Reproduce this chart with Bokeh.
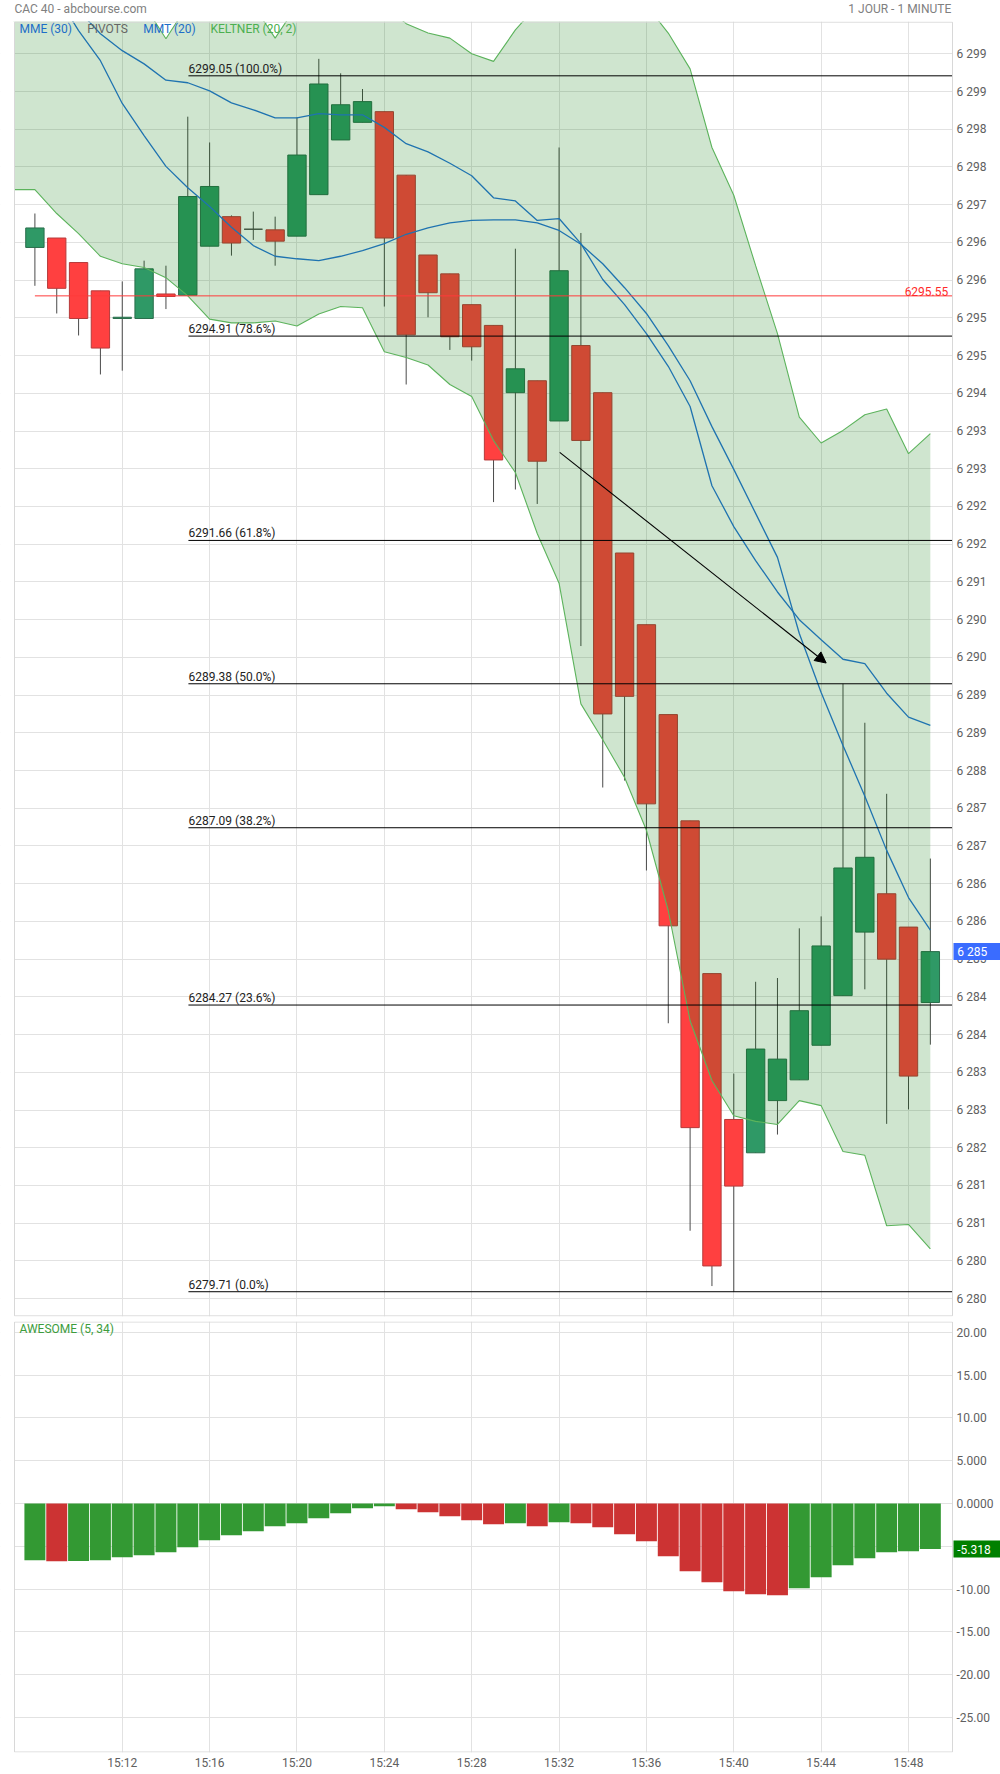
from bokeh.plotting import figure
from bokeh.layouts import column
from bokeh.models import (Range1d, FixedTicker, Label, Arrow, NormalHead,
                          CustomJSTickFormatter, ColumnDataSource)
from bokeh.embed import file_html
from bokeh.resources import INLINE
from bokeh.core.properties import value

FONT = "Roboto"

# ---------------- data ----------------
times = ["15:08", "15:09", "15:10", "15:11", "15:12", "15:13", "15:14", "15:15", "15:16", "15:17",
         "15:18", "15:19", "15:20", "15:21", "15:22", "15:23", "15:24", "15:25", "15:26", "15:27",
         "15:28", "15:29", "15:30", "15:31", "15:32", "15:33", "15:34", "15:35", "15:36", "15:37",
         "15:38", "15:39", "15:40", "15:41", "15:42", "15:43", "15:44", "15:45", "15:46", "15:47",
         "15:48", "15:49"]

opens = [6296.32, 6296.47, 6296.08, 6295.63, 6295.19, 6295.19, 6295.58, 6295.56, 6296.34, 6296.81,
         6296.61, 6296.60, 6296.50, 6297.16, 6298.03, 6298.31, 6298.48, 6297.47, 6296.20, 6295.90,
         6295.41, 6295.08, 6294.01, 6294.20, 6293.56, 6294.76, 6294.01, 6291.46, 6290.32, 6288.89,
         6287.20, 6284.77, 6282.45, 6281.92, 6282.75, 6283.08, 6283.63, 6284.42, 6285.43, 6286.04,
         6285.51, 6284.31]
highs = [6296.86, 6296.47, 6296.08, 6295.63, 6295.78, 6296.11, 6296.03, 6298.40, 6297.99, 6296.83,
         6296.89, 6296.81, 6298.39, 6299.32, 6299.09, 6298.84, 6298.48, 6297.47, 6296.20, 6295.90,
         6295.41, 6295.08, 6296.30, 6294.20, 6297.91, 6296.55, 6294.01, 6291.46, 6290.32, 6288.89,
         6287.20, 6284.77, 6283.18, 6284.64, 6284.70, 6285.49, 6285.68, 6289.38, 6288.76, 6287.63,
         6285.51, 6286.60]
lows = [6295.71, 6295.27, 6294.92, 6294.30, 6294.36, 6295.19, 6295.34, 6295.56, 6296.34, 6296.19,
        6296.44, 6296.03, 6296.50, 6297.16, 6298.03, 6298.31, 6295.38, 6294.14, 6295.21, 6294.69,
        6294.52, 6292.27, 6292.47, 6292.24, 6293.56, 6289.98, 6287.73, 6287.84, 6286.41, 6283.98,
        6280.68, 6279.80, 6279.71, 6281.92, 6282.21, 6283.08, 6283.63, 6284.42, 6284.52, 6282.38,
        6282.61, 6283.64]
closes = [6296.63, 6295.67, 6295.19, 6294.72, 6295.21, 6295.98, 6295.54, 6297.13, 6297.29, 6296.39,
          6296.61, 6296.42, 6297.79, 6298.92, 6298.59, 6298.64, 6296.47, 6294.93, 6295.60, 6294.90,
          6294.74, 6292.94, 6294.39, 6292.92, 6295.95, 6293.25, 6288.90, 6289.18, 6287.47, 6285.53,
          6282.32, 6280.12, 6281.39, 6283.57, 6283.41, 6284.18, 6285.21, 6286.45, 6286.62, 6285.00,
          6283.14, 6285.12]

# indicator series start one minute earlier (15:07), off the left edge
kelt_up = [6300.88, 6300.73, 6300.57, 6300.41, 6300.33, 6300.25, 6300.18, 6299.64, 6300.18, 6300.33,
           6300.30, 6300.17, 6299.65, 6300.17, 6300.33, 6300.41, 6300.33, 6300.17, 6299.88, 6299.73,
           6299.65, 6299.40, 6299.28, 6299.78, 6300.17, 6300.33, 6300.41, 6300.41, 6300.38, 6300.17,
           6299.73, 6299.16, 6297.91, 6297.15, 6296.03, 6294.95, 6293.62, 6293.21, 6293.41, 6293.66,
           6293.75, 6293.04, 6293.36]
kelt_lo = [6297.24, 6297.24, 6296.86, 6296.54, 6296.18, 6296.06, 6296.00, 6295.84, 6295.55, 6295.18,
           6295.12, 6295.12, 6295.15, 6295.07, 6295.26, 6295.38, 6295.36, 6294.66, 6294.57, 6294.45,
           6294.14, 6293.95, 6293.25, 6292.74, 6291.77, 6290.98, 6289.06, 6288.49, 6287.89, 6287.05,
           6285.77, 6284.02, 6283.07, 6282.51, 6282.42, 6282.37, 6282.75, 6282.67, 6281.94, 6281.88,
           6280.76, 6280.78, 6280.39]
mmt20 = [6301.52, 6300.88, 6300.33, 6299.77, 6299.29, 6298.61, 6298.10, 6297.61, 6297.27, 6296.97,
         6296.64, 6296.35, 6296.18, 6296.14, 6296.11, 6296.18, 6296.27, 6296.38, 6296.53, 6296.63,
         6296.71, 6296.75, 6296.76, 6296.76, 6296.71, 6296.59, 6296.37, 6296.06, 6295.68, 6295.27,
         6294.76, 6294.20, 6293.47, 6292.79, 6292.09, 6291.39, 6290.18, 6289.24, 6288.40, 6287.59,
         6286.73, 6285.98, 6285.46]
mme30 = [6301.36, 6300.88, 6300.38, 6300.09, 6299.72, 6299.45, 6299.24, 6298.98, 6298.94, 6298.81,
         6298.62, 6298.51, 6298.38, 6298.38, 6298.45, 6298.43, 6298.43, 6298.23, 6297.97, 6297.84,
         6297.66, 6297.46, 6297.11, 6297.06, 6296.75, 6296.78, 6296.38, 6295.81, 6295.41, 6294.95,
         6294.43, 6293.79, 6292.53, 6291.88, 6291.34, 6290.84, 6290.40, 6290.08, 6289.77, 6289.70,
         6289.23, 6288.85, 6288.72]

ao_vals = [-6.63, -6.74, -6.73, -6.63, -6.27, -6.04, -5.69, -5.11, -4.29, -3.70,
           -3.23, -2.65, -2.30, -1.71, -1.13, -0.55, -0.31, -0.66, -1.01, -1.48,
           -1.95, -2.42, -2.30, -2.65, -2.18, -2.30, -2.77, -3.59, -4.40, -6.16,
           -7.91, -9.20, -10.25, -10.60, -10.72, -9.90, -8.61, -7.21, -6.39, -5.69,
           -5.57, -5.318]

fib_levels = [6299.05, 6294.91, 6291.66, 6289.38, 6287.09, 6284.27, 6279.71]
fib_pcts = ["100.0%", "78.6%", "61.8%", "50.0%", "38.2%", "23.6%", "0.0%"]
fib_start = 7.03
pivot_level = 6295.55
arrow_from = (24.03, 6293.06)
arrow_to = (36.23, 6289.71)
last_price_text = "6 285"
ao_last_text = "-5.318"
header_left = "CAC 40 - abcbourse.com"
header_right = "1 JOUR - 1 MINUTE"

price_ticks = [round(6279.6 + 0.6 * k, 1) for k in range(34)]
time_ticks = [4, 8, 12, 16, 20, 24, 28, 32, 36, 40]
ao_ticks = [20, 15, 10, 5, 0, -5, -10, -15, -20, -25]

# ---------------- layout constants ----------------
GREEN = "#2f9966"
RED = "#ff4040"
NEUTRAL = "#4a4a4a"
GRID = "#e2e2e2"
BORDER = "#d8d8d8"
AXIS_TXT = "#606060"

X_FULL = (-1.575, 44.212)        # whole canvas width
X_AREA = (-0.934, 42.015)        # plotting area (inside the border)
P_RANGE = (6279.316, 6299.914)   # price panel
A_FULL = (-29.09, 21.26)         # AO panel

n = len(times)
idx = list(range(n))
ind_x = list(range(-1, n))

xr = Range1d(*X_FULL)


def style_axis(ax, standoff):
    ax.axis_line_color = None
    ax.major_tick_line_color = None
    ax.minor_tick_line_color = None
    ax.major_tick_out = 0
    ax.major_tick_in = 0
    ax.major_label_standoff = standoff
    ax.major_label_text_font = FONT
    ax.major_label_text_font_size = "12px"
    ax.major_label_text_color = AXIS_TXT


# ---------------- header strip ----------------
h = figure(width=1000, height=21, x_range=Range1d(0, 1000), y_range=Range1d(0, 21),
           x_axis_location=None, y_axis_location=None, toolbar_location=None,
           output_backend="svg", min_border=0)
h.outline_line_color = None
h.xgrid.visible = False
h.ygrid.visible = False
h.text(x=[14], y=[12.7], text=[header_left], text_font=value(FONT), text_font_size="12px",
       text_color="#808080", text_baseline="middle", text_align="left")
h.text(x=[950.7], y=[12.7], text=[header_right], text_font=value(FONT), text_font_size="12px",
       text_color="#808080", text_baseline="middle", text_align="right")

# ---------------- price panel ----------------
p = figure(width=1000, height=1300, x_range=xr, y_range=Range1d(*P_RANGE),
           x_axis_location=None, y_axis_location="right", toolbar_location=None,
           output_backend="svg", min_border_left=0, min_border_right=0,
           min_border_top=0, min_border_bottom=5)
p.outline_line_color = None
p.xgrid.ticker = FixedTicker(ticks=time_ticks)
p.xgrid.grid_line_color = GRID
p.ygrid.grid_line_color = GRID
p.yaxis.ticker = FixedTicker(ticks=price_ticks)
p.yaxis.formatter = CustomJSTickFormatter(
    code="const s = Math.round(tick).toString(); return s.slice(0,1) + ' ' + s.slice(1);")
p.yaxis.fixed_location = X_AREA[1]
style_axis(p.yaxis, 4)

body_col, line_col = [], []
for o, c in zip(opens, closes):
    if c > o:
        body_col.append(GREEN); line_col.append("#2a6e4c")
    elif c < o:
        body_col.append(RED); line_col.append("#b63a3a")
    else:
        body_col.append(NEUTRAL); line_col.append(NEUTRAL)

csrc = ColumnDataSource(dict(
    x=idx, o=opens, h=highs, l=lows, c=closes,
    top=[max(o, c) for o, c in zip(opens, closes)],
    bottom=[min(o, c) for o, c in zip(opens, closes)],
    fc=body_col, lc=line_col))

p.segment(x0="x", y0="l", x1="x", y1="h", source=csrc, line_color=NEUTRAL, line_width=1)
p.vbar(x="x", width=0.84, top="top", bottom="bottom", source=csrc,
       fill_color="fc", line_color="lc", line_width=1)

# Keltner band drawn over the candles (translucent)
p.varea(x=ind_x, y1=kelt_lo, y2=kelt_up, fill_color="#007600", fill_alpha=0.19)
p.line(ind_x, kelt_up, line_color="#5cb35c", line_width=1.1)
p.line(ind_x, kelt_lo, line_color="#5cb35c", line_width=1.1)

# moving averages
p.line(ind_x, mme30, line_color="#1f73b0", line_width=1.3)
p.line(ind_x, mmt20, line_color="#1f73b0", line_width=1.3)

# Fibonacci retracement lines
p.segment(x0=[fib_start] * len(fib_levels), x1=[X_FULL[1]] * len(fib_levels),
          y0=fib_levels, y1=fib_levels, line_color="black", line_width=1)
p.text(x=[fib_start] * len(fib_levels), y=fib_levels,
       text=[f"{v:.2f}  ({pc})" for v, pc in zip(fib_levels, fib_pcts)],
       text_font=value(FONT), text_font_size="12px", text_color="#222222",
       text_baseline="bottom", text_align="left")

# pivot line
p.segment(x0=[0], x1=[X_FULL[1]], y0=[pivot_level], y1=[pivot_level],
          line_color="#ff3b3b", line_width=1)
p.text(x=[41.82], y=[pivot_level], text=[f"{pivot_level:.2f}"],
       text_font=value(FONT), text_font_size="12px", text_color="#ff2a2a",
       text_baseline="bottom", text_align="right")

# white margins left/right of the plotting area + its border
p.quad(left=[-10, X_AREA[1]], right=[X_AREA[0], 60],
       bottom=[6270, 6270], top=[6310, 6310],
       fill_color="white", line_color=None)
p.quad(left=[X_AREA[0]], right=[X_AREA[1]], bottom=[P_RANGE[0] + 0.01], top=[P_RANGE[1] - 0.01],
       fill_color=None, line_color=BORDER, line_width=1)

# arrow
p.add_layout(Arrow(end=NormalHead(size=11, fill_color="black", line_color="black"),
                   x_start=arrow_from[0], y_start=arrow_from[1],
                   x_end=arrow_to[0], y_end=arrow_to[1],
                   line_color="black", line_width=1.1))

# legend texts
legend_items = [("MME (30)", -0.705, "#1e6ec8"), ("PIVOTS", 2.395, "#666666"),
                ("MMT (20)", 4.959, "#1e6ec8"), ("KELTNER (20, 2)", 8.04, "#4caf50")]
for txt, lx, col in legend_items:
    p.add_layout(Label(x=lx, y=6299.79, text=txt, text_font=FONT, text_font_size="12px",
                       text_color=col, text_baseline="middle", text_align="left"))

# last price box (above the axis labels)
p.quad(left=[42.06], right=[60], bottom=[closes[-1] - 0.135], top=[closes[-1] + 0.135],
       fill_color="#3a6cff", line_color=None, level="overlay")
p.text(x=[42.23], y=[closes[-1]], text=[last_price_text], text_font=value(FONT),
       text_font_size="12px", text_color="white", text_baseline="middle",
       text_align="left", level="overlay")

# ---------------- Awesome oscillator panel ----------------
q = figure(width=1000, height=451, x_range=xr, y_range=Range1d(*A_FULL),
           y_axis_location="right", x_axis_location="below", toolbar_location=None,
           output_backend="svg", min_border_left=0, min_border_right=0,
           min_border_top=0, min_border_bottom=20)
q.outline_line_color = None
q.xgrid.grid_line_color = GRID
q.ygrid.grid_line_color = GRID
q.xaxis.ticker = FixedTicker(ticks=time_ticks)
q.xaxis.major_label_overrides = {i: times[i] for i in time_ticks}
q.yaxis.ticker = FixedTicker(ticks=ao_ticks)
q.yaxis.formatter = CustomJSTickFormatter(
    code="if (tick == 0) { return '0.0000'; } return tick.toPrecision(4);")
q.yaxis.fixed_location = X_AREA[1]
style_axis(q.xaxis, 3)
style_axis(q.yaxis, 4)

ao_cols = []
for i, v in enumerate(ao_vals):
    if i == 0 or v >= ao_vals[i - 1]:
        ao_cols.append("#339933")
    else:
        ao_cols.append("#cc3333")
q.vbar(x=idx, width=0.96, top=[0] * n, bottom=ao_vals, fill_color=ao_cols, line_color=None)

q.quad(left=[-10, X_AREA[1]], right=[X_AREA[0], 60],
       bottom=[-50, -50], top=[40, 40],
       fill_color="white", line_color=None)
q.quad(left=[X_AREA[0]], right=[X_AREA[1]], bottom=[A_FULL[0] + 0.06], top=[A_FULL[1] - 0.06],
       fill_color=None, line_color=BORDER, line_width=1)

q.add_layout(Label(x=-0.705, y=20.33, text="AWESOME (5, 34)", text_font=FONT,
                   text_font_size="12px", text_color="#3c9c3c", text_baseline="middle",
                   text_align="left"))
q.quad(left=[42.06], right=[60], bottom=[ao_vals[-1] - 0.99], top=[ao_vals[-1] + 0.99],
       fill_color="#008000", line_color=None, level="overlay")
q.text(x=[42.23], y=[ao_vals[-1]], text=[ao_last_text], text_font=value(FONT),
       text_font_size="12px", text_color="white", text_baseline="middle",
       text_align="left", level="overlay")

layout = column(h, p, q)
open("out.html", "w").write(file_html(layout, INLINE))
